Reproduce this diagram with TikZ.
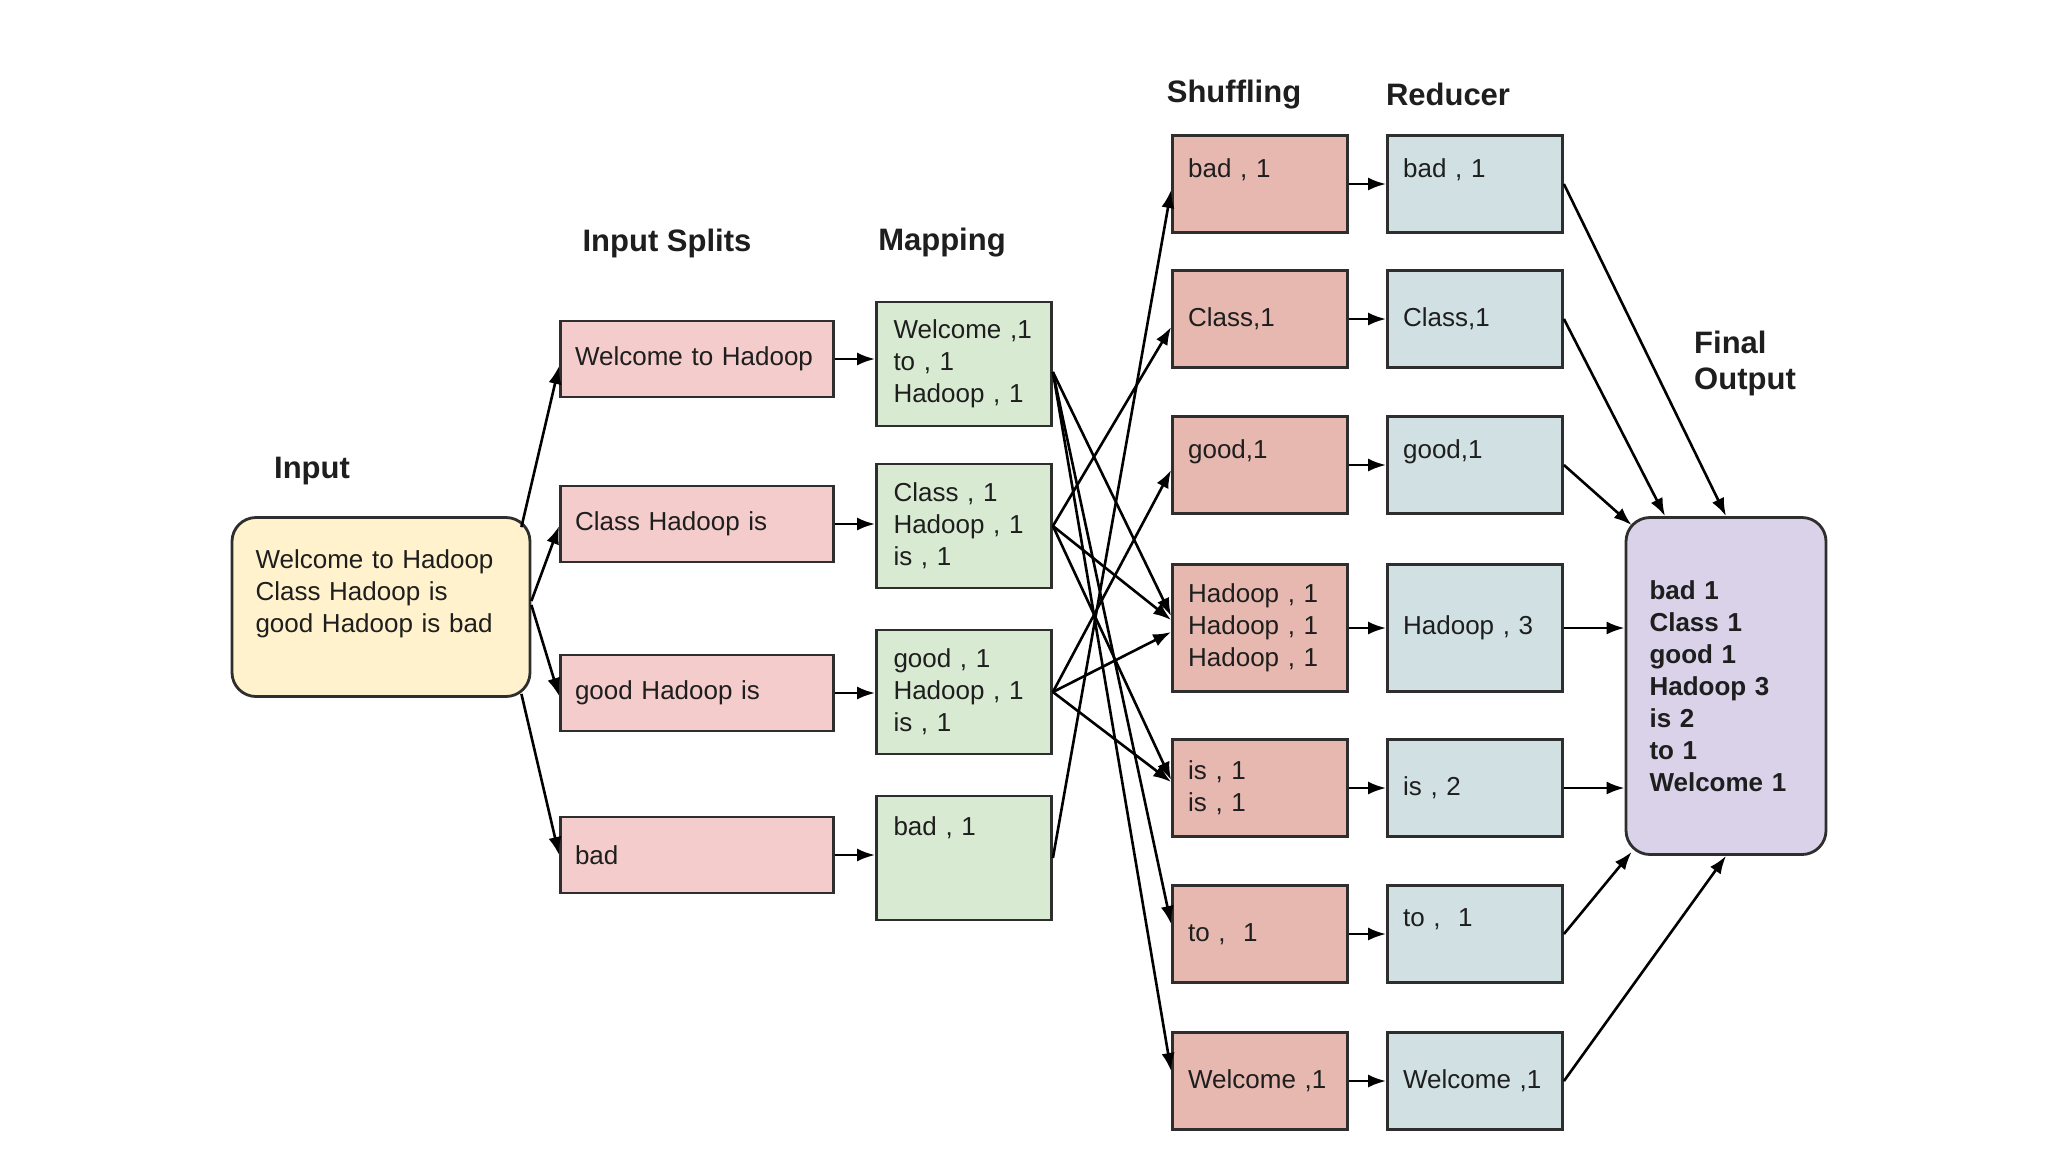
\documentclass[tikz,border=0pt]{standalone}
\usepackage{fontspec}
\setmainfont{Liberation Sans}
\usetikzlibrary{arrows.meta,calc}
\definecolor{inputc}{HTML}{FFF2CC}
\definecolor{splitc}{HTML}{F4CCCC}
\definecolor{mapc}{HTML}{D9EAD3}
\definecolor{shufc}{HTML}{E6B8AF}
\definecolor{redc}{HTML}{D0E0E3}
\definecolor{finc}{HTML}{D9D2E9}
\definecolor{edgec}{HTML}{2E2E2E}
\definecolor{textc}{HTML}{1E1E1E}
\begin{document}
\begin{tikzpicture}[x=0.5pt,y=-0.5pt,
  box/.style={draw=edgec, line width=1.4pt, align=left, inner ysep=0pt,
    font=\fontsize{13}{16}\selectfont, text=textc},
  inbox/.style={box, fill=inputc, rounded corners=12pt, minimum width=149pt,
    minimum height=89.5pt, text width=125.5pt, inner xsep=11.75pt},
  splitbox/.style={box, fill=splitc, minimum width=136.5pt, minimum height=38pt,
    text width=122pt, inner xsep=7.25pt},
  mapbox/.style={box, fill=mapc, minimum width=87.5pt, minimum height=62pt,
    text width=70.5pt, inner xsep=8.5pt},
  shufbox/.style={box, fill=shufc, minimum width=87.5pt, minimum height=48.5pt,
    text width=71.9pt, inner xsep=7.8pt},
  redbox/.style={box, fill=redc, minimum width=87.5pt, minimum height=48.5pt,
    text width=71.9pt, inner xsep=7.8pt},
  finbox/.style={box, fill=finc, rounded corners=12pt, minimum width=100pt,
    minimum height=168.5pt, text width=76.5pt, inner xsep=11.75pt,
    font=\fontsize{13}{16}\selectfont\bfseries},
  head/.style={font=\fontsize{15.5}{18}\selectfont\bfseries, text=textc, align=left},
  conn/.style={draw=black, line width=1.3pt, -{Latex[length=9pt,width=6.5pt]}}
]
\useasboundingbox[fill=white] (0,0) rectangle (2048,1152);

% headers
\node[head] (hin) at (312,471) {Input};
\node[head] (hsp) at (667,243) {Input Splits};
\node[head] (hmp) at (942,243) {Mapping};
\node[head] (hsh) at (1234,95) {Shuffling};
\node[head] (hrd) at (1448,94) {Reducer};
\node[head] (hfo) at (1745,363) {Final\\Output};

% input
\node[inbox] (in) at (381,607) {Welcome to Hadoop\\Class Hadoop is\\good Hadoop is bad\\~};

% splits
\node[splitbox] (s1) at (697,359) {Welcome to Hadoop};
\node[splitbox] (s2) at (697,524) {Class Hadoop is};
\node[splitbox] (s3) at (697,693) {good Hadoop is};
\node[splitbox] (s4) at (697,855) {bad};

% mapping
\node[mapbox] (m1) at (964,364) {Welcome ,1\\to , 1\\Hadoop , 1};
\node[mapbox] (m2) at (964,526) {Class , 1\\Hadoop , 1\\is , 1};
\node[mapbox] (m3) at (964,692) {good , 1\\Hadoop , 1\\is , 1};
\node[mapbox] (m4) at (964,858) {bad , 1\\~\\~};

% shuffling
\node[shufbox] (sh1) at (1260,184) {bad , 1\\~};
\node[shufbox] (sh2) at (1260,319) {Class,1};
\node[shufbox] (sh3) at (1260,465) {good,1\\~};
\node[shufbox, minimum height=63.5pt] (sh4) at (1260,628) {Hadoop , 1\\Hadoop , 1\\Hadoop , 1};
\node[shufbox] (sh5) at (1260,788) {is , 1\\is , 1};
\node[shufbox] (sh6) at (1260,934) {to ,\ \ 1};
\node[shufbox] (sh7) at (1260,1081) {Welcome ,1};

% reducer
\node[redbox] (r1) at (1475,184) {bad , 1\\~};
\node[redbox] (r2) at (1475,319) {Class,1};
\node[redbox] (r3) at (1475,465) {good,1\\~};
\node[redbox, minimum height=63.5pt] (r4) at (1475,628) {Hadoop , 3};
\node[redbox] (r5) at (1475,788) {is , 2};
\node[redbox] (r6) at (1475,934) {to ,\ \ 1\\~};
\node[redbox] (r7) at (1475,1081) {Welcome ,1};

% final
\node[finbox] (fin) at (1726,686) {bad 1\\Class 1\\good 1\\Hadoop 3\\is 2\\to 1\\Welcome 1};

% input -> splits
\draw[conn] ($(in.north east)+(-10,11)$) -- ($(s1.west)+(0,7)$);
\draw[conn] ($(in.east)+(0,-6)$) -- ($(s2.west)+(0,2)$);
\draw[conn] ($(in.east)+(0,-2)$) -- ($(s3.west)+(0,3)$);
\draw[conn] ($(in.south east)+(-10,-4)$) -- (s4.west);

% splits -> mapping
\draw[conn] (s1.east) -- (s1.east -| m1.west);
\draw[conn] (s2.east) -- (s2.east -| m2.west);
\draw[conn] (s3.east) -- (s3.east -| m3.west);
\draw[conn] (s4.east) -- (s4.east -| m4.west);

% mapping -> shuffling
\coordinate (m1o) at ($(m1.east)+(0,8)$);
\draw[conn] (m1o) -- ($(sh4.west)+(0,-12)$);
\draw[conn] (m1o) -- ($(sh6.west)+(0,-10)$);
\draw[conn] (m1o) -- ($(sh7.west)+(0,-10)$);
\draw[conn] (m2.east) -- ($(sh2.west)+(0,8)$);
\draw[conn] (m2.east) -- ($(sh4.west)+(0,-8)$);
\draw[conn] (m2.east) -- ($(sh5.west)+(0,-8)$);
\draw[conn] (m3.east) -- ($(sh3.west)+(0,5)$);
\draw[conn] (m3.east) -- ($(sh4.west)+(0,4)$);
\draw[conn] (m3.east) -- ($(sh5.west)+(0,-6)$);
\draw[conn] (m4.east) -- ($(sh1.west)+(0,6)$);

% shuffling -> reducer
\draw[conn] (sh1.east) -- (r1.west);
\draw[conn] (sh2.east) -- (r2.west);
\draw[conn] (sh3.east) -- (r3.west);
\draw[conn] (sh4.east) -- (r4.west);
\draw[conn] (sh5.east) -- (r5.west);
\draw[conn] (sh6.east) -- (r6.west);
\draw[conn] (sh7.east) -- (r7.west);

% reducer -> final
\draw[conn] (r1.east) -- (fin.north);
\draw[conn] (r2.east) -- ($(fin.north)+(-61,0)$);
\draw[conn] (r3.east) -- ($(fin.north west)+(7,9)$);
\draw[conn] (r4.east) -- (r4.east -| fin.west);
\draw[conn] (r5.east) -- (r5.east -| fin.west);
\draw[conn] (r6.east) -- ($(fin.south west)+(7,-4)$);
\draw[conn] (r7.east) -- (fin.south);
\end{tikzpicture}
\end{document}
